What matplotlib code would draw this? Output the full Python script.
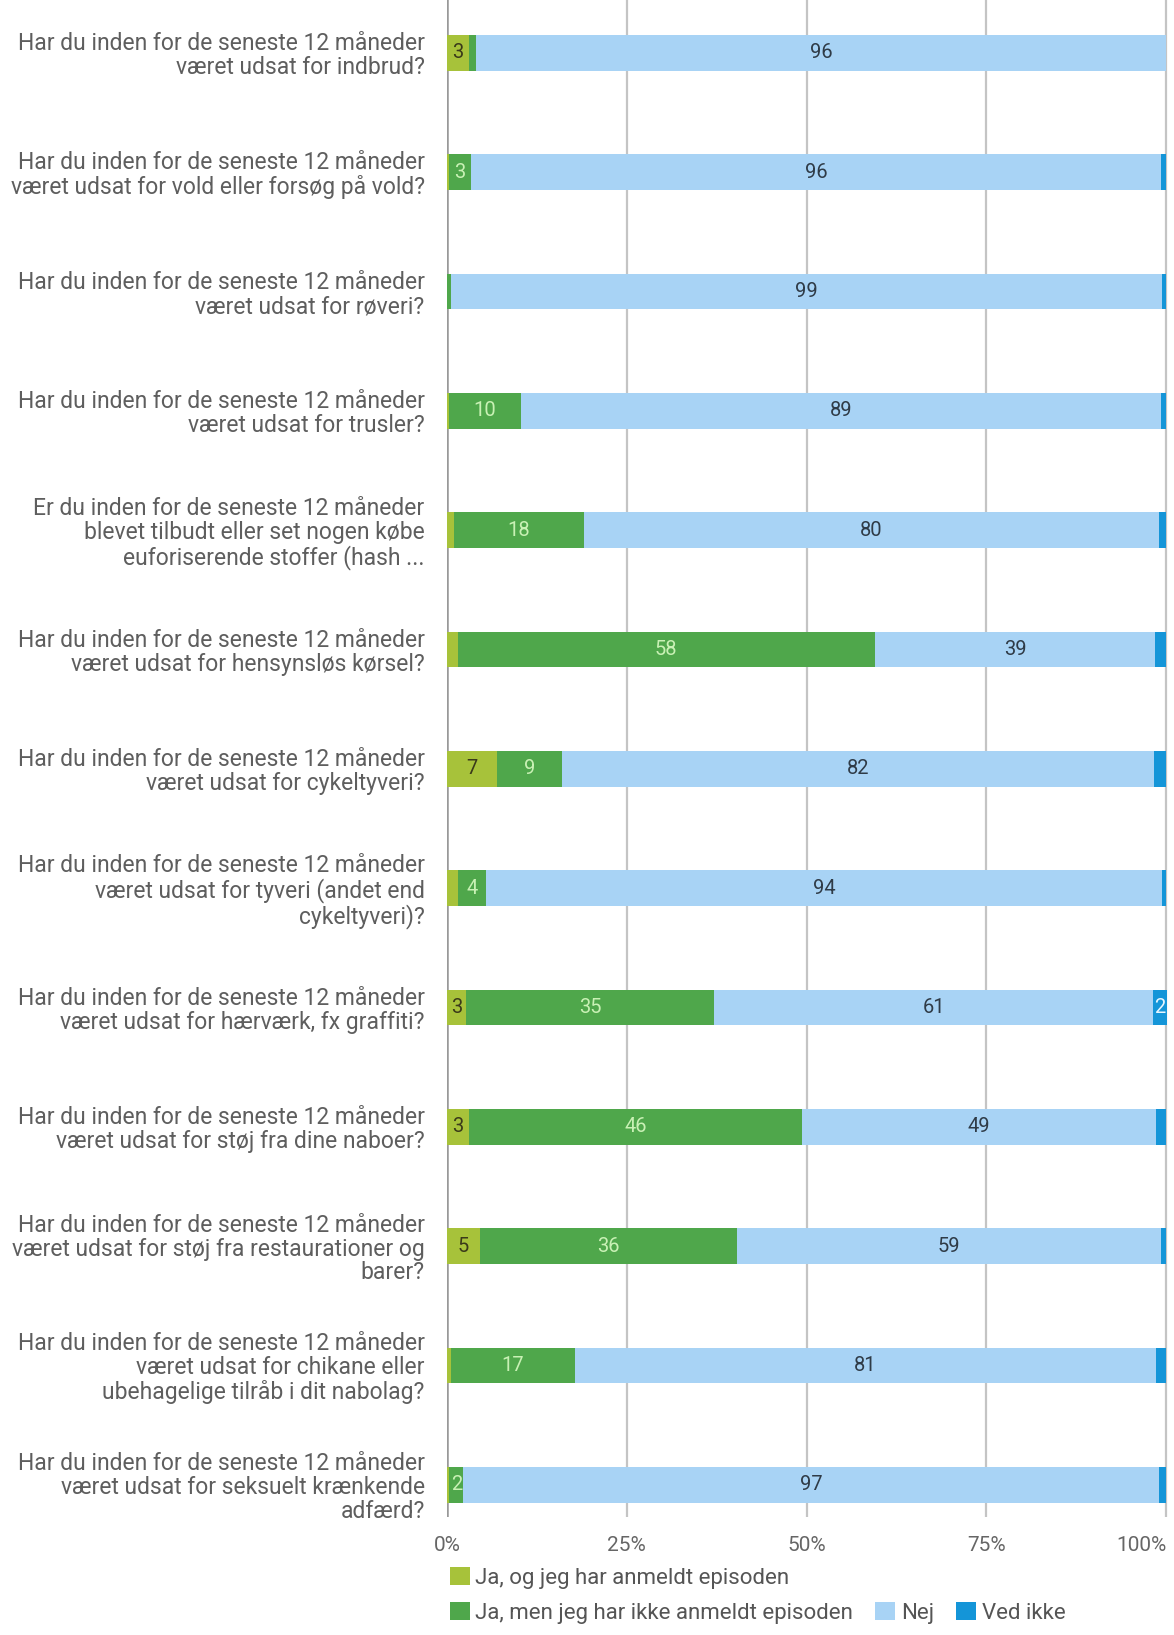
import numpy as np
import matplotlib.pyplot as plt
from matplotlib.patches import Patch
from matplotlib.ticker import FixedLocator, FuncFormatter

plt.rcParams['font.family'] = ['Roboto', 'DejaVu Sans']

questions = [
    "Har du inden for de seneste 12 måneder\nværet udsat for indbrud?",
    "Har du inden for de seneste 12 måneder\nværet udsat for vold eller forsøg på vold?",
    "Har du inden for de seneste 12 måneder\nværet udsat for røveri?",
    "Har du inden for de seneste 12 måneder\nværet udsat for trusler?",
    "Er du inden for de seneste 12 måneder\nblevet tilbudt eller set nogen købe\neuforiserende stoffer (hash ...",
    "Har du inden for de seneste 12 måneder\nværet udsat for hensynsløs kørsel?",
    "Har du inden for de seneste 12 måneder\nværet udsat for cykeltyveri?",
    "Har du inden for de seneste 12 måneder\nværet udsat for tyveri (andet end\ncykeltyveri)?",
    "Har du inden for de seneste 12 måneder\nværet udsat for hærværk, fx graffiti?",
    "Har du inden for de seneste 12 måneder\nværet udsat for støj fra dine naboer?",
    "Har du inden for de seneste 12 måneder\nværet udsat for støj fra restaurationer og\nbarer?",
    "Har du inden for de seneste 12 måneder\nværet udsat for chikane eller\nubehagelige tilråb i dit nabolag?",
    "Har du inden for de seneste 12 måneder\nværet udsat for seksuelt krænkende\nadfærd?",
]

series_names = ["Ja, og jeg har anmeldt episoden",
                "Ja, men jeg har ikke anmeldt episoden",
                "Nej", "Ved ikke"]

ja_anmeldt = [3.0, 0.3, 0.0, 0.3, 1.0, 1.5, 7.0, 1.5, 2.6, 3.0, 4.6, 0.5, 0.3]
ja_ikke = [1.0, 3.0, 0.5, 10.0, 18.0, 58.0, 9.0, 4.0, 34.6, 46.4, 35.8, 17.3, 2.0]
nej = [96.0, 96.0, 99.0, 89.0, 80.0, 39.0, 82.3, 94.0, 61.0, 49.2, 58.9, 80.8, 96.7]
ved_ikke = [0.0, 0.7, 0.5, 0.7, 1.0, 1.5, 1.7, 0.5, 1.9, 1.4, 0.7, 1.4, 1.0]

colors = ['#a7c23a', '#4fa74b', '#a8d3f5', '#1495d8']
text_colors = ['#3a3a1a', '#c9f1b5', '#2f3b47', '#e8f6ff']

fig = plt.figure(figsize=(11.74, 16.35), dpi=100)
ax = fig.add_axes([0.3807, 0.0722, 0.615, 0.9278])

y = np.arange(len(questions))
left = np.zeros(len(questions))
for vals, name, c, tc in zip([ja_anmeldt, ja_ikke, nej, ved_ikke], series_names, colors, text_colors):
    vals = np.array(vals)
    ax.barh(y, vals, left=left, height=0.3, color=c, label=name, zorder=3)
    for yi, l, v in zip(y, left, vals):
        if v >= 1.9:
            ax.text(l + v / 2, yi, f"{round(v)}", ha='center', va='center',
                    fontsize=14.5, color=tc, zorder=4)
    left += vals

ax.set_xlim(0, 100.4)
ax.set_ylim(12.27, -0.444)
ax.xaxis.set_major_locator(FixedLocator([0, 25, 50, 75, 100]))
ax.xaxis.set_major_formatter(FuncFormatter(lambda x, pos: f"{x:.0f}%"))
ax.grid(axis='x', color='#c4c4c4', lw=1.6, zorder=0)
ax.axvline(0, color='#999999', lw=1.8, zorder=2)

for s in ax.spines.values():
    s.set_visible(False)

ax.set_yticks(y)
ax.set_yticklabels(questions, fontsize=16.5, color='#5e5e5e', ha='right', linespacing=1.05)
ax.tick_params(axis='y', length=0, pad=16)
ax.tick_params(axis='x', length=0, pad=14, labelsize=15, labelcolor='#666666')
# keep 100% inside the figure
ax.get_xticklabels()[-1].set_ha('right')
ax.get_xticklabels()[-1].set_x(100.4)

handles = [Patch(facecolor=c, edgecolor='none') for c in colors]
leg1 = fig.legend(handles[:1], series_names[:1], loc='center left',
                  bbox_to_anchor=(0.366, 0.035), frameon=False, fontsize=16,
                  handlelength=0.9, handleheight=0.9, handletextpad=0.25,
                  labelcolor='#555555')
leg2 = fig.legend(handles[1:], series_names[1:], loc='center left',
                  bbox_to_anchor=(0.366, 0.0135), frameon=False, fontsize=16,
                  ncol=3, handlelength=0.9, handleheight=0.9, handletextpad=0.25,
                  columnspacing=1.0, labelcolor='#555555')

fig.savefig('out.png', dpi=100, facecolor='white')
